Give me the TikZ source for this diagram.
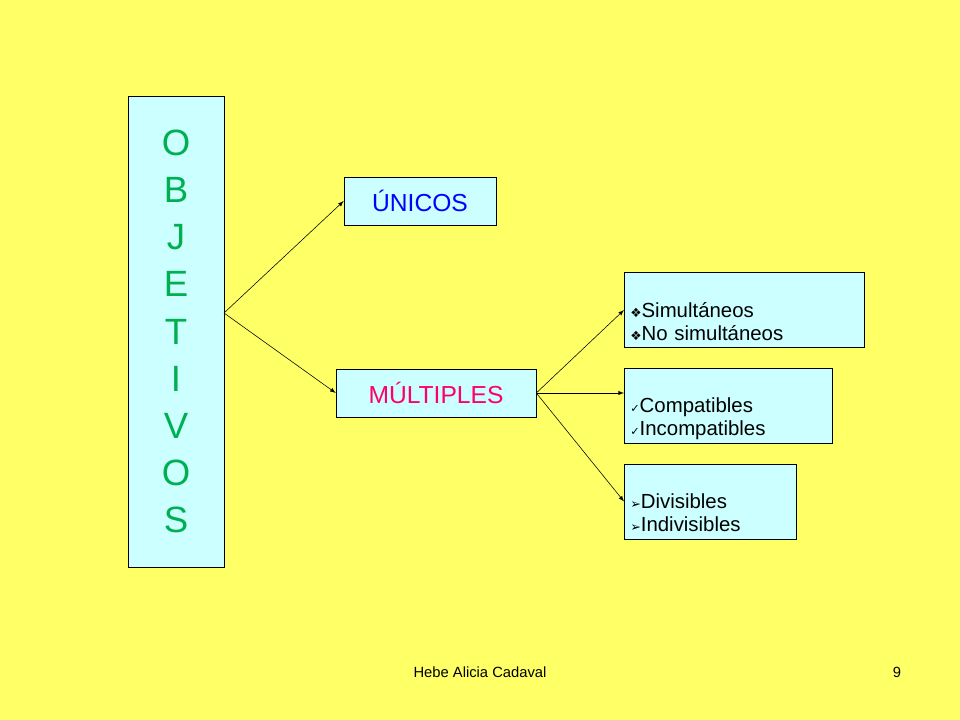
\documentclass[tikz,border=0pt]{standalone}
\usepackage{fontspec}
\setmainfont{Liberation Sans}
\newfontfamily\symfont{DejaVu Sans}
\usetikzlibrary{positioning}
\definecolor{bgyellow}{HTML}{FFFF66}
\definecolor{boxcyan}{HTML}{CCFFFF}
\definecolor{objgreen}{HTML}{00B050}
\definecolor{multmag}{HTML}{FF0066}
\tikzset{
  cbox/.style={draw=black,fill=boxcyan,inner sep=0pt},
  listbox/.style={cbox,align=left,anchor=west,font=\fontsize{14.5}{16}\selectfont,text depth=0pt},
  arr/.style={->,>=latex,black}
}
\begin{document}
\begin{tikzpicture}[x=0.025cm,y=-0.025cm]
  \fill[bgyellow] (0,0) rectangle (960,720);
  \useasboundingbox (0,0) rectangle (960,720);
  % left column
  \node[cbox,minimum width=96*0.025cm,minimum height=471*0.025cm,text=objgreen,
        font=\fontsize{26}{33.5}\selectfont,align=center] (obj) at (176,331.5)
        {O\\B\\J\\E\\T\\I\\V\\O\\S};
  \coordinate (split) at (224,313);
  % middle
  \node[cbox,minimum width=152*0.025cm,minimum height=48*0.025cm,text=blue,
        font=\fontsize{17.5}{20}\selectfont] (unicos) at (420,201) {ÚNICOS};
  \node[cbox,minimum width=200*0.025cm,minimum height=48*0.025cm,text=multmag,
        font=\fontsize{17.5}{20}\selectfont] (multiples) at (436,393) {MÚLTIPLES};
  % right
  \node[listbox,minimum width=240*0.025cm,minimum height=75*0.025cm,text width=228*0.025cm] (sim) at (624,310)
    {{\symfont\small❖}Simultáneos\\{\symfont\small❖}No simultáneos};
  \node[listbox,minimum width=208*0.025cm,minimum height=75*0.025cm,text width=196*0.025cm] (comp) at (624,405.5)
    {{\symfont\footnotesize✓}Compatibles\\{\symfont\footnotesize✓}Incompatibles};
  \node[listbox,minimum width=172*0.025cm,minimum height=75*0.025cm,text width=160*0.025cm] (div) at (624,501.5)
    {{\symfont\small➢}Divisibles\\{\symfont\small➢}Indivisibles};
  % arrows
  \draw[arr] (split) -- (unicos.west);
  \draw[arr] (split) -- (multiples.west);
  \draw[arr] (multiples.east) -- (sim.west);
  \draw[arr] (multiples.east) -- (comp.west |- multiples.east);
  \draw[arr] (multiples.east) -- (div.west);
  % footer
  \node[font=\fontsize{10.5}{12}\selectfont] (author) at (480,672) {Hebe Alicia Cadaval};
  \node[font=\fontsize{10.5}{12}\selectfont] (page) at (897,672) {9};
\end{tikzpicture}
\end{document}
